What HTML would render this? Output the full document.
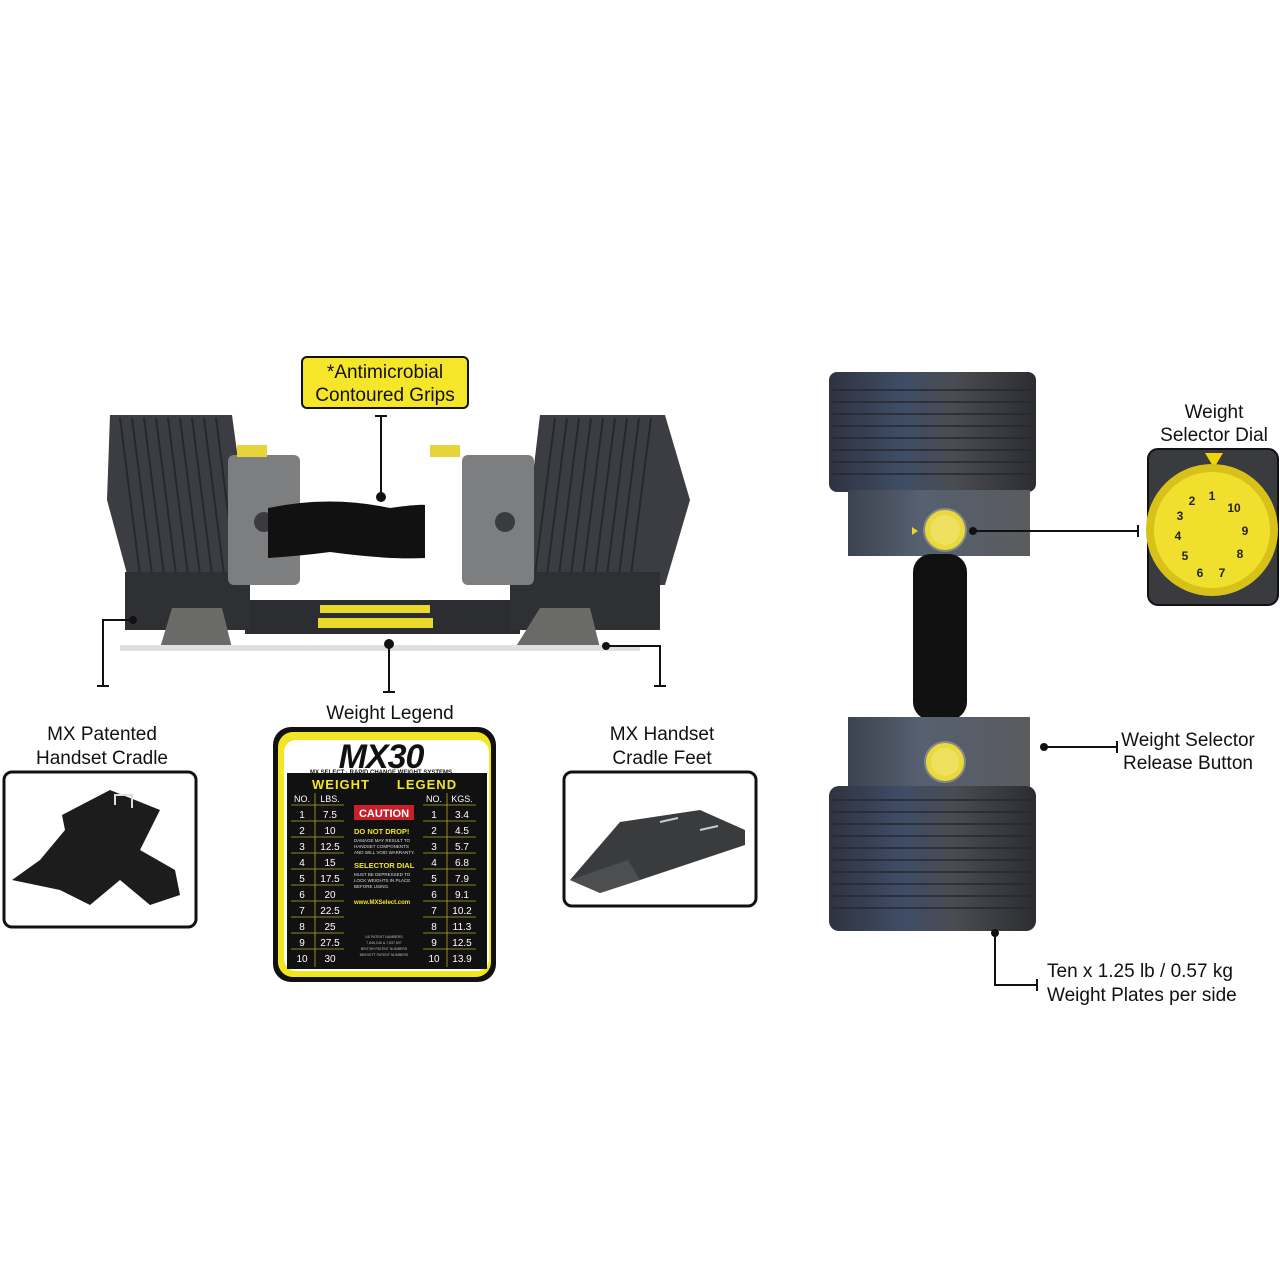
<!DOCTYPE html>
<html><head><meta charset="utf-8"><style>
html,body{margin:0;padding:0;background:#fff}
svg{display:block}
text{font-family:"Liberation Sans",sans-serif}
</style></head><body>
<svg width="1280" height="1280" viewBox="0 0 1280 1280" xmlns="http://www.w3.org/2000/svg">
<defs>
<linearGradient id="pl" x1="0" x2="1"><stop offset="0" stop-color="#3a3d45"/><stop offset="0.5" stop-color="#4b4f58"/><stop offset="1" stop-color="#2e3036"/></linearGradient>
<linearGradient id="vp" x1="0" x2="1"><stop offset="0" stop-color="#2f3340"/><stop offset="0.35" stop-color="#3e4d66"/><stop offset="0.6" stop-color="#4a4c52"/><stop offset="1" stop-color="#2c2d31"/></linearGradient>
<linearGradient id="hub" x1="0" x2="1"><stop offset="0" stop-color="#3c4350"/><stop offset="0.4" stop-color="#566070"/><stop offset="1" stop-color="#5a5b5e"/></linearGradient>
</defs>

<!-- Top label -->
<rect x="302" y="357" width="166" height="51" rx="5" fill="#f5e62a" stroke="#111" stroke-width="2"/>
<text x="385" y="378" font-size="19" text-anchor="middle" fill="#111">*Antimicrobial</text>
<text x="385" y="401" font-size="19" text-anchor="middle" fill="#111">Contoured Grips</text>
<line x1="381" y1="416" x2="381" y2="497" stroke="#111" stroke-width="2"/>
<line x1="375" y1="416" x2="387" y2="416" stroke="#111" stroke-width="2"/>

<!-- Left dumbbell -->
<rect x="245" y="600" width="275" height="34" fill="#2c2d30"/>
<rect x="320" y="605" width="110" height="8" fill="#e8d92a"/>
<rect x="318" y="618" width="115" height="10" fill="#e8d92a"/>
<polygon points="110,415 232,415 255,585 130,585 107,500" fill="#3b3d42"/>
<polygon points="540,415 665,415 690,500 665,585 520,585" fill="#3b3d42"/>
<g stroke="#26282c" stroke-width="2">
<line x1="120" y1="418" x2="140" y2="575"/><line x1="132" y1="418" x2="152" y2="575"/><line x1="144" y1="418" x2="164" y2="575"/><line x1="156" y1="418" x2="176" y2="575"/><line x1="168" y1="418" x2="188" y2="575"/><line x1="180" y1="418" x2="200" y2="575"/><line x1="192" y1="418" x2="212" y2="575"/><line x1="204" y1="418" x2="224" y2="575"/><line x1="216" y1="418" x2="236" y2="575"/>
<line x1="555" y1="418" x2="535" y2="575"/><line x1="567" y1="418" x2="547" y2="575"/><line x1="579" y1="418" x2="559" y2="575"/><line x1="591" y1="418" x2="571" y2="575"/><line x1="603" y1="418" x2="583" y2="575"/><line x1="615" y1="418" x2="595" y2="575"/><line x1="627" y1="418" x2="607" y2="575"/><line x1="639" y1="418" x2="619" y2="575"/><line x1="651" y1="418" x2="631" y2="575"/>
</g>
<rect x="125" y="572" width="125" height="58" fill="#2f3033"/>
<rect x="510" y="572" width="150" height="58" fill="#2f3033"/>
<rect x="228" y="455" width="72" height="130" rx="6" fill="#7d7e80"/>
<rect x="462" y="455" width="72" height="130" rx="6" fill="#7d7e80"/>
<rect x="237" y="445" width="30" height="12" fill="#e6d43a"/>
<rect x="430" y="445" width="30" height="12" fill="#e6d43a"/>
<circle cx="264" cy="522" r="10" fill="#3a3b3e"/>
<circle cx="505" cy="522" r="10" fill="#3a3b3e"/>
<path d="M268,508 Q330,495 390,508 Q420,504 425,505 L425,558 Q390,560 330,552 Q300,556 268,558 Z" fill="#111"/>
<polygon points="160,648 232,648 222,608 172,608" fill="#6a6b68"/>
<polygon points="515,648 600,648 590,608 540,608" fill="#6a6b68"/>
<rect x="120" y="645" width="520" height="6" fill="#e0e0e0"/>

<!-- connectors left -->
<g stroke="#111" stroke-width="2" fill="none">
<polyline points="133,620 103,620 103,686"/><line x1="97" y1="686" x2="109" y2="686"/>
<line x1="389" y1="648" x2="389" y2="692"/><line x1="383" y1="692" x2="395" y2="692"/>
<polyline points="606,646 660,646 660,686"/><line x1="654" y1="686" x2="666" y2="686"/>
</g>
<circle cx="133" cy="620" r="4" fill="#111"/>
<circle cx="381" cy="497" r="5" fill="#111"/>
<circle cx="389" cy="644" r="5" fill="#111"/>
<circle cx="606" cy="646" r="4" fill="#111"/>

<text x="102" y="740" font-size="19" text-anchor="middle" fill="#111">MX Patented</text>
<text x="102" y="764" font-size="19" text-anchor="middle" fill="#111">Handset Cradle</text>
<text x="390" y="719" font-size="19" text-anchor="middle" fill="#111">Weight Legend</text>
<text x="662" y="740" font-size="19" text-anchor="middle" fill="#111">MX Handset</text>
<text x="662" y="764" font-size="19" text-anchor="middle" fill="#111">Cradle Feet</text>

<!-- cradle box -->
<rect x="4" y="772" width="192" height="155" rx="8" fill="#fff" stroke="#111" stroke-width="3"/>
<polygon points="60,890 12,880 40,860 65,830 62,815 110,790 160,810 140,850 175,870 180,895 150,905 120,880 90,905" fill="#1c1c1d"/>
<polyline points="115,805 115,795 132,795 132,808" stroke="#ddd" stroke-width="2" fill="none"/>
<!-- feet box -->
<rect x="564" y="772" width="192" height="134" rx="8" fill="#fff" stroke="#111" stroke-width="3"/>
<polygon points="570,880 620,822 700,810 745,830 745,845 640,880 600,893" fill="#3a3b3d"/>
<polygon points="570,880 600,893 640,880 628,860" fill="#4d4e50"/>
<line x1="660" y1="822" x2="678" y2="818" stroke="#ccc" stroke-width="2"/>
<line x1="700" y1="830" x2="718" y2="826" stroke="#ccc" stroke-width="2"/>

<!-- legend card -->
<rect x="273" y="727" width="223" height="255" rx="18" fill="#111"/>
<rect x="278" y="732" width="213" height="245" rx="15" fill="#f1e623"/>
<rect x="284" y="740" width="205" height="231" rx="12" fill="#fff"/>
<rect x="287" y="773" width="200" height="196" fill="#111"/>
<text x="381" y="768" font-size="34" font-weight="bold" font-style="italic" text-anchor="middle" fill="#111" letter-spacing="-1">MX<tspan fill="#111">30</tspan></text>
<text x="381" y="774" font-size="6" text-anchor="middle" fill="#111" font-weight="bold">MX SELECT · RAPID CHANGE WEIGHT SYSTEMS</text>
<text x="341" y="789" font-size="13" font-weight="bold" text-anchor="middle" fill="#f1e623" letter-spacing="1">WEIGHT</text>
<text x="427" y="789" font-size="13" font-weight="bold" text-anchor="middle" fill="#f1e623" letter-spacing="1">LEGEND</text>
<g font-size="9" fill="#fff" text-anchor="middle">
<text x="302" y="802">NO.</text><text x="330" y="802">LBS.</text><text x="434" y="802">NO.</text><text x="462" y="802">KGS.</text>
</g>
<g font-size="10" fill="#fff" text-anchor="middle">
<text x="302" y="818">1</text><text x="330" y="818">7.5</text><text x="434" y="818">1</text><text x="462" y="818">3.4</text>
<text x="302" y="834">2</text><text x="330" y="834">10</text><text x="434" y="834">2</text><text x="462" y="834">4.5</text>
<text x="302" y="850">3</text><text x="330" y="850">12.5</text><text x="434" y="850">3</text><text x="462" y="850">5.7</text>
<text x="302" y="866">4</text><text x="330" y="866">15</text><text x="434" y="866">4</text><text x="462" y="866">6.8</text>
<text x="302" y="882">5</text><text x="330" y="882">17.5</text><text x="434" y="882">5</text><text x="462" y="882">7.9</text>
<text x="302" y="898">6</text><text x="330" y="898">20</text><text x="434" y="898">6</text><text x="462" y="898">9.1</text>
<text x="302" y="914">7</text><text x="330" y="914">22.5</text><text x="434" y="914">7</text><text x="462" y="914">10.2</text>
<text x="302" y="930">8</text><text x="330" y="930">25</text><text x="434" y="930">8</text><text x="462" y="930">11.3</text>
<text x="302" y="946">9</text><text x="330" y="946">27.5</text><text x="434" y="946">9</text><text x="462" y="946">12.5</text>
<text x="302" y="962">10</text><text x="330" y="962">30</text><text x="434" y="962">10</text><text x="462" y="962">13.9</text>
</g>
<g stroke="#b8a824" stroke-width="0.8">
<line x1="291" y1="805" x2="344" y2="805"/><line x1="423" y1="805" x2="476" y2="805"/>
<line x1="291" y1="821" x2="344" y2="821"/><line x1="423" y1="821" x2="476" y2="821"/>
<line x1="291" y1="837" x2="344" y2="837"/><line x1="423" y1="837" x2="476" y2="837"/>
<line x1="291" y1="853" x2="344" y2="853"/><line x1="423" y1="853" x2="476" y2="853"/>
<line x1="291" y1="869" x2="344" y2="869"/><line x1="423" y1="869" x2="476" y2="869"/>
<line x1="291" y1="885" x2="344" y2="885"/><line x1="423" y1="885" x2="476" y2="885"/>
<line x1="291" y1="901" x2="344" y2="901"/><line x1="423" y1="901" x2="476" y2="901"/>
<line x1="291" y1="917" x2="344" y2="917"/><line x1="423" y1="917" x2="476" y2="917"/>
<line x1="291" y1="933" x2="344" y2="933"/><line x1="423" y1="933" x2="476" y2="933"/>
<line x1="291" y1="949" x2="344" y2="949"/><line x1="423" y1="949" x2="476" y2="949"/>
<line x1="315" y1="793" x2="315" y2="967"/><line x1="447" y1="793" x2="447" y2="967"/>
</g>
<rect x="354" y="805" width="60" height="15" fill="#c8202a"/>
<text x="384" y="817" font-size="11" font-weight="bold" text-anchor="middle" fill="#fff">CAUTION</text>
<text x="354" y="834" font-size="7.5" font-weight="bold" fill="#f1e623">DO NOT DROP!</text>
<g font-size="4.5" fill="#ddd"><text x="354" y="842">DAMAGE MAY RESULT TO</text><text x="354" y="848">HANDSET COMPONENTS</text><text x="354" y="854">AND WILL VOID WARRANTY.</text>
<text x="354" y="876">MUST BE DEPRESSED TO</text><text x="354" y="882">LOCK WEIGHTS IN PLACE</text><text x="354" y="888">BEFORE USING.</text></g>
<text x="354" y="868" font-size="7.5" font-weight="bold" fill="#f1e623">SELECTOR DIAL</text>
<text x="354" y="904" font-size="6" font-weight="bold" fill="#f1e623">www.MXSelect.com</text>
<g font-size="3.5" fill="#bbb" text-anchor="middle"><text x="384" y="938">US PATENT NUMBERS</text><text x="384" y="944">7,846,046 &amp; 7,837,597</text><text x="384" y="950">BRITISH PATENT NUMBERS</text><text x="384" y="956">BREXETT PATENT NUMBERS</text></g>

<!-- Right vertical dumbbell -->
<rect x="829" y="372" width="207" height="120" rx="8" fill="url(#vp)"/>
<g stroke="#262830" stroke-width="1.5">
<line x1="832" y1="390" x2="1033" y2="390"/><line x1="832" y1="402" x2="1033" y2="402"/><line x1="832" y1="414" x2="1033" y2="414"/><line x1="832" y1="426" x2="1033" y2="426"/><line x1="832" y1="438" x2="1033" y2="438"/><line x1="832" y1="450" x2="1033" y2="450"/><line x1="832" y1="462" x2="1033" y2="462"/><line x1="832" y1="474" x2="1033" y2="474"/>
</g>
<rect x="848" y="490" width="182" height="66" fill="url(#hub)"/>
<rect x="913" y="554" width="54" height="166" rx="18" fill="#111"/>
<rect x="848" y="717" width="182" height="72" fill="url(#hub)"/>
<rect x="829" y="786" width="207" height="145" rx="10" fill="url(#vp)"/>
<g stroke="#262830" stroke-width="1.5">
<line x1="832" y1="800" x2="1033" y2="800"/><line x1="832" y1="812" x2="1033" y2="812"/><line x1="832" y1="824" x2="1033" y2="824"/><line x1="832" y1="836" x2="1033" y2="836"/><line x1="832" y1="848" x2="1033" y2="848"/><line x1="832" y1="860" x2="1033" y2="860"/><line x1="832" y1="872" x2="1033" y2="872"/><line x1="832" y1="884" x2="1033" y2="884"/><line x1="832" y1="896" x2="1033" y2="896"/><line x1="832" y1="908" x2="1033" y2="908"/>
</g>
<circle cx="945" cy="530" r="21" fill="#e8da3a" stroke="#888" stroke-width="2"/>
<circle cx="945" cy="530" r="15" fill="#f0e060"/>
<circle cx="945" cy="762" r="20" fill="#e8da3a" stroke="#888" stroke-width="2"/>
<circle cx="945" cy="762" r="14" fill="#f0e060"/>
<polygon points="912,527 918,531 912,535" fill="#e8d42a"/>

<!-- right connectors -->
<g stroke="#111" stroke-width="2" fill="none">
<line x1="973" y1="531" x2="1138" y2="531"/><line x1="1138" y1="525" x2="1138" y2="537"/>
<line x1="1044" y1="747" x2="1117" y2="747"/><line x1="1117" y1="741" x2="1117" y2="753"/>
<polyline points="995,933 995,985 1037,985"/><line x1="1037" y1="979" x2="1037" y2="991"/>
</g>
<circle cx="973" cy="531" r="4" fill="#111"/>
<circle cx="1044" cy="747" r="4" fill="#111"/>
<circle cx="995" cy="933" r="4" fill="#111"/>

<text x="1214" y="418" font-size="19" text-anchor="middle" fill="#111">Weight</text>
<text x="1214" y="441" font-size="19" text-anchor="middle" fill="#111">Selector Dial</text>
<rect x="1148" y="449" width="130" height="156" rx="10" fill="#3a3b3e" stroke="#111" stroke-width="2"/>
<polygon points="1205,453 1223,453 1214,468" fill="#f1d400"/>
<circle cx="1212" cy="530" r="66" fill="#d8c21a"/>
<circle cx="1212" cy="530" r="58" fill="#f0df2c"/>
<g font-size="12" font-weight="bold" fill="#222" text-anchor="middle">
<text x="1212" y="500">1</text><text x="1234" y="512">10</text><text x="1245" y="535">9</text><text x="1240" y="558">8</text><text x="1222" y="577">7</text><text x="1200" y="577">6</text><text x="1185" y="560">5</text><text x="1178" y="540">4</text><text x="1180" y="520">3</text><text x="1192" y="505">2</text>
</g>
<text x="1188" y="746" font-size="19" text-anchor="middle" fill="#111">Weight Selector</text>
<text x="1188" y="769" font-size="19" text-anchor="middle" fill="#111">Release Button</text>
<text x="1047" y="977" font-size="19" fill="#111">Ten x 1.25 lb / 0.57 kg</text>
<text x="1047" y="1001" font-size="19" fill="#111">Weight Plates per side</text>
</svg>
</body></html>
